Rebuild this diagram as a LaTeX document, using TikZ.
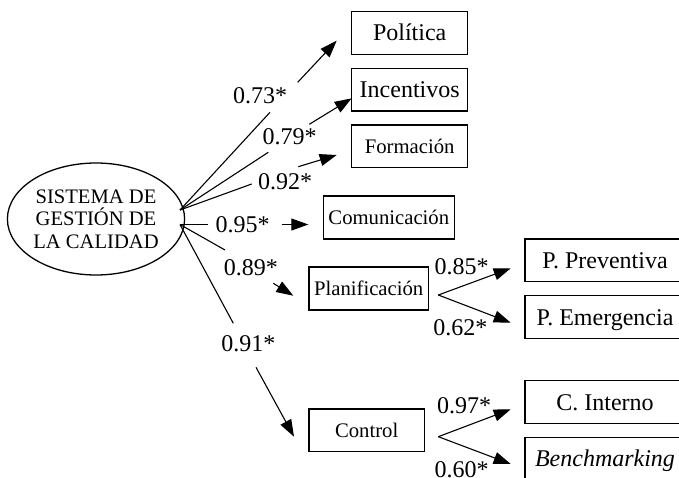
\documentclass[tikz,border=0pt]{standalone}
\usepackage{fontspec}
\setmainfont{Liberation Serif}
\usetikzlibrary{arrows.meta,shapes.geometric}
\begin{document}
\begin{tikzpicture}[x=1pt,y=-1pt,
  bigf/.style={font=\fontsize{24}{28}\selectfont},
  smallf/.style={font=\fontsize{20.7}{24}\selectfont},
  box/.style={draw, line width=1.3pt, inner sep=0pt, text depth=0pt},
  bigbox/.style={box, bigf, text height=16pt},
  smallbox/.style={box, smallf, text height=13.7pt},
  conn/.style={line width=1.1pt},
  arr/.style={conn, -{Triangle[length=17pt,width=12pt]}},
  lab/.style={bigf, anchor=base, inner sep=0pt}]
\useasboundingbox (0,0) rectangle (679,478);
\clip (0,0) rectangle (679,478);

% latent construct
\node[ellipse, draw, line width=1.3pt, minimum width=168pt, minimum height=112pt,
      inner sep=0pt, align=center, font=\fontsize{20.6}{22.7}\selectfont]
      (sgc) at (96,219) {SISTEMA DE\\GESTIÓN DE\\LA CALIDAD};

% indicator boxes
\node[bigbox, minimum width=116pt, minimum height=42.6pt] (pol) at (409.7,33) {Política};
\node[bigbox, minimum width=116pt, minimum height=42.6pt] (inc) at (409.7,89.7) {Incentivos};
\node[smallbox, minimum width=116pt, minimum height=42.6pt] (for) at (409.7,146.3) {Formación};
\node[smallbox, minimum width=131pt, minimum height=43pt] (com) at (388.8,217.5) {Comunicación};
\node[smallbox, minimum width=119.3pt, minimum height=43pt] (pla) at (368.7,288.5) {Planificación};
\node[smallbox, minimum width=115.3pt, minimum height=42.7pt] (ctl) at (366.7,430.3) {Control};
\node[bigbox, minimum width=160pt, minimum height=42.7pt] (pp) at (605,260.3) {P. Preventiva};
\node[bigbox, minimum width=160pt, minimum height=42.7pt] (pe) at (605,317) {P. Emergencia};
\node[bigbox, minimum width=160pt, minimum height=42.7pt] (ci) at (605,402) {C. Interno};
\node[bigbox, minimum width=160pt, minimum height=42.7pt] (bm) at (605,458.7) {\itshape Benchmarking};

% connector points
\coordinate (o1) at (180,210);
\coordinate (o2) at (180,224.5);
\coordinate (a1) at (270,112.3);   \coordinate (b1) at (297.7,82.3);  \coordinate (t1) at (336.7,40.7);
\coordinate (a2) at (268.3,152.3); \coordinate (b2) at (309.3,124.3); \coordinate (t2) at (351.7,98.3);
\coordinate (a3) at (251.7,184);   \coordinate (b3) at (298.3,166.7); \coordinate (t3) at (336.7,155);
\coordinate (a4) at (208.3,224.5); \coordinate (b4) at (281.7,224.5); \coordinate (t4) at (308.3,224.5);
\coordinate (a5) at (225,250);     \coordinate (b5) at (273.3,283.3); \coordinate (t5) at (293.3,295.7);
\coordinate (a6) at (233.3,323.3); \coordinate (b6) at (256,367.3);   \coordinate (t6) at (294,436.7);
\coordinate (p0) at (438.3,295);   \coordinate (tp1) at (510.7,268.3); \coordinate (tp2) at (510.7,322.7);
\coordinate (c0) at (438.3,436.7); \coordinate (tc1) at (510.7,409.3); \coordinate (tc2) at (510.7,464);

% connectors from the construct
\draw[conn] (o1) -- (a1);  \draw[arr] (b1) -- (t1);
\draw[conn] (o1) -- (a2);  \draw[arr] (b2) -- (t2);
\draw[conn] (o1) -- (a3);  \draw[arr] (b3) -- (t3);
\draw[conn] (o2) -- (a4);  \draw[arr] (b4) -- (t4);
\draw[conn] (o2) -- (a5);  \draw[arr] (b5) -- (t5);
\draw[conn] (o2) -- (a6);  \draw[arr] (b6) -- (t6);

% second-order branches
\draw[arr] (p0) -- (tp1);  \draw[arr] (p0) -- (tp2);
\draw[arr] (c0) -- (tc1);  \draw[arr] (c0) -- (tc2);

% loadings
\node[lab] (l1) at (260,104) {0.73*};
\node[lab] (l2) at (289.7,145) {0.79*};
\node[lab] (l3) at (285,190) {0.92*};
\node[lab] (l4) at (242.5,232.7) {0.95*};
\node[lab] (l5) at (250.8,275) {0.89*};
\node[lab] (l6) at (248.3,351.7) {0.91*};
\node[lab] (l7) at (461.7,274) {0.85*};
\node[lab] (l8) at (460.3,335) {0.62*};
\node[lab] (l9) at (464,413.3) {0.97*};
\node[lab] (l10) at (461.7,477.5) {0.60*};
\end{tikzpicture}
\end{document}
